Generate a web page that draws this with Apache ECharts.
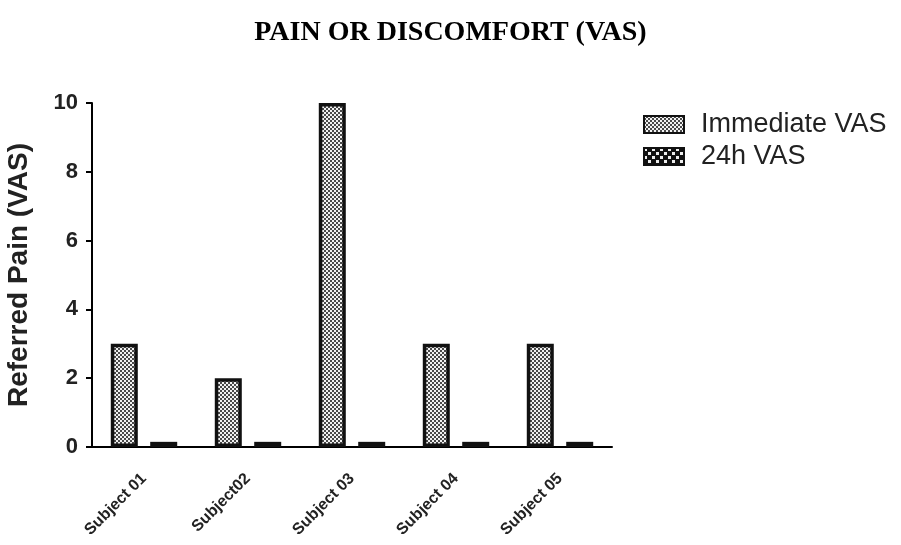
<!DOCTYPE html>
<html>
<head>
<meta charset="utf-8">
<script src="https://cdn.jsdelivr.net/npm/echarts@6/dist/echarts.min.js"></script>
<style>
  html, body { margin: 0; padding: 0; background: #fff; }
  #chart { width: 901px; height: 545px; }
</style>
</head>
<body>
<div id="chart"></div>
<script>
const categories = ['Subject 01', 'Subject02', 'Subject 03', 'Subject 04', 'Subject 05']
const immediateVas = [3, 2, 10, 3, 3]
const vas24h = [0.15, 0.15, 0.15, 0.15, 0.15]
const yTicks = [0, 2, 4, 6, 8, 10]

// small repeating fills to mimic the printed hatch patterns
const makeDots = (bg, dot, size, dotSize) => {
  const c = document.createElement('canvas')
  c.width = size
  c.height = size
  const ctx = c.getContext('2d')
  ctx.fillStyle = bg
  ctx.fillRect(0, 0, size, size)
  ctx.fillStyle = dot
  ctx.fillRect(0, 0, dotSize, dotSize)
  ctx.fillRect(size / 2, size / 2, dotSize, dotSize)
  return c
}

const chart = echarts.init(document.getElementById('chart'))

chart.setOption({
  animation: false,
  title: {
    text: 'PAIN OR DISCOMFORT (VAS)',
    left: 'center',
    top: 14,
    textStyle: {
      fontFamily: 'Liberation Serif',
      fontSize: 28,
      fontWeight: 'bold',
      color: '#000'
    }
  },
  legend: {
    orient: 'vertical',
    left: 638,
    top: 106,
    icon: 'rect',
    itemWidth: 40,
    itemHeight: 17,
    itemGap: 5,
    textStyle: {
      fontFamily: 'Liberation Sans',
      fontSize: 27,
      lineHeight: 27,
      color: '#222',
      padding: [0, 0, 0, 12]
    },
    data: ['Immediate VAS', '24h VAS']
  },
  grid: {
    left: 92,
    right: 289,
    top: 103,
    bottom: 98,
    outerBoundsMode: 'none'
  },
  xAxis: {
    type: 'category',
    data: categories,
    axisLine: { lineStyle: { color: '#000', width: 2 } },
    axisTick: { alignWithLabel: true, length: 7, lineStyle: { color: '#000', width: 2 } },
    axisLabel: {
      rotate: 45,
      color: '#222',
      fontFamily: 'Liberation Sans',
      fontWeight: 'bold',
      fontSize: 16,
      margin: 29
    }
  },
  yAxis: {
    type: 'value',
    min: 0,
    max: 10,
    interval: 2,
    name: 'Referred Pain (VAS)',
    nameLocation: 'middle',
    nameGap: 59,
    nameTextStyle: {
      fontFamily: 'Liberation Sans',
      fontSize: 28,
      fontWeight: 'bold',
      color: '#222'
    },
    axisLine: { show: true, lineStyle: { color: '#000', width: 2 } },
    axisTick: { show: true, length: 6, lineStyle: { color: '#000', width: 2 } },
    axisLabel: {
      color: '#222',
      fontFamily: 'Liberation Sans',
      fontWeight: 'bold',
      fontSize: 22,
      margin: 14,
      formatter: v => yTicks.includes(v) ? String(v) : ''
    },
    splitLine: { show: false }
  },
  series: [
    {
      name: 'Immediate VAS',
      type: 'bar',
      data: immediateVas,
      barWidth: 27,
      barGap: '46%',
      itemStyle: {
        color: { image: makeDots('#4a4a4a', '#f2f2f2', 4, 2), repeat: 'repeat' },
        borderColor: '#111',
        borderWidth: 3.5
      }
    },
    {
      name: '24h VAS',
      type: 'bar',
      data: vas24h,
      barWidth: 27,
      itemStyle: {
        color: { image: makeDots('#111', '#eee', 8, 3), repeat: 'repeat' },
        borderColor: '#111',
        borderWidth: 3.5
      }
    }
  ]
})
</script>
</body>
</html>
